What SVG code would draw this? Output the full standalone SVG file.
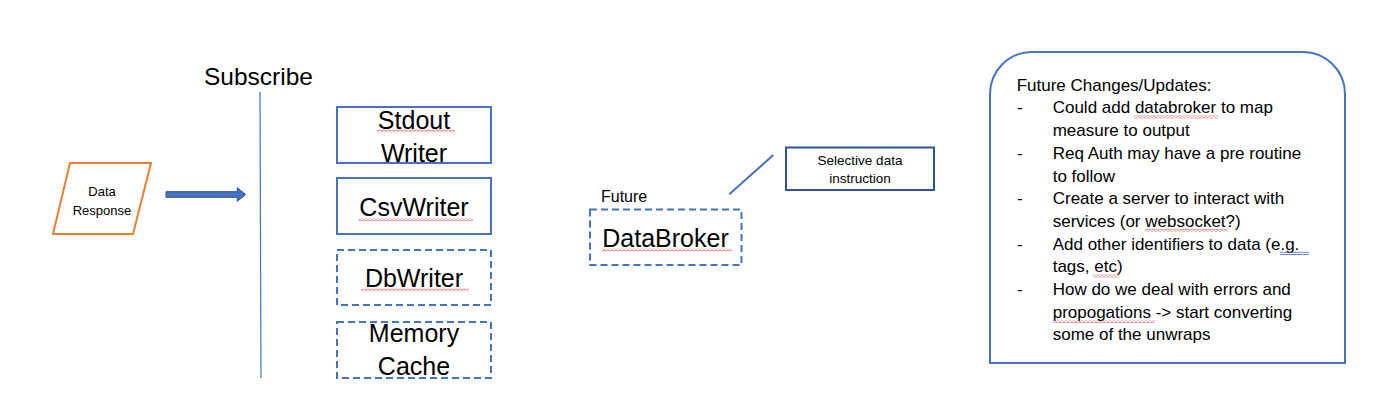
<svg xmlns="http://www.w3.org/2000/svg" width="1385" height="410" viewBox="0 0 1385 410">
<style>
text{font-family:"Liberation Sans",Arial,sans-serif;fill:#000}
.box{fill:#fff;stroke:#4472C4;stroke-width:2}
.dash{stroke-dasharray:7 4}
.big{font-size:25px;text-anchor:middle}
.note{font-size:17px}
.sq{fill:url(#squig)}
</style>
<defs>
<pattern id="squig" x="0" y="0" width="4" height="3" patternUnits="userSpaceOnUse">
<path d="M0,0.6 L2,2.4 L4,0.6" fill="none" stroke="#E03030" stroke-width="0.8"/>
</pattern>
</defs>
<rect width="1385" height="410" fill="#fff"/>

<g id="connectors">
<line x1="260" y1="92" x2="261" y2="378" stroke="#4472C4" stroke-width="1.2"/>
<path d="M166,191.7 L237.3,191.7 L237.3,187.7 L245.7,194.5 L237.3,201.3 L237.3,197.3 L166,197.3 Z" fill="#4472C4" stroke="#2F528F" stroke-width="1"/>
<line x1="729.3" y1="194.3" x2="773.3" y2="155" stroke="#4472C4" stroke-width="2"/>
</g>

<g id="data-response">
<polygon points="70,163 151,163 133,234 53,234" fill="#fff" stroke="#ED7D31" stroke-width="2"/>
<text x="102" y="196" font-size="13" text-anchor="middle">Data</text>
<text x="102" y="214.5" font-size="13" text-anchor="middle">Response</text>
</g>

<g id="subscribe">
<text x="204" y="85" font-size="24.5">Subscribe</text>
</g>

<g id="stdout-writer">
<rect class="box" x="337" y="107" width="154" height="56"/>
<text class="big" x="414" y="128.5">Stdout</text>
<text class="big" x="414" y="161.5">Writer</text>
<rect class="sq" x="377" y="129.5" width="78" height="3"/>
</g>

<g id="csv-writer">
<rect class="box" x="337" y="178" width="154" height="56"/>
<text class="big" x="414" y="215.5">CsvWriter</text>
<rect class="sq" x="358" y="218" width="115" height="3"/>
</g>

<g id="db-writer">
<rect class="box dash" x="337" y="250" width="154" height="55"/>
<text class="big" x="414" y="287">DbWriter</text>
<rect class="sq" x="361" y="288.5" width="108" height="3"/>
</g>

<g id="memory-cache">
<rect class="box dash" x="337" y="322" width="154" height="56"/>
<text class="big" x="414" y="342">Memory</text>
<text class="big" x="414" y="375">Cache</text>
</g>

<g id="databroker">
<text x="601" y="202.3" font-size="16">Future</text>
<rect class="box dash" x="590" y="209.5" width="151.5" height="55.5"/>
<text x="665.5" y="247.3" font-size="25" text-anchor="middle">DataBroker</text>
<rect class="sq" x="602" y="248.5" width="130" height="3"/>
</g>

<g id="selective-data">
<rect x="786" y="147.5" width="148" height="42.5" fill="#fff" stroke="#2F5597" stroke-width="2"/>
<text x="860" y="165" font-size="13.5" text-anchor="middle">Selective data</text>
<text x="860" y="183.3" font-size="13.5" text-anchor="middle">instruction</text>
</g>

<g id="future-changes">
<path d="M990,363 L990,94 A42,42 0 0 1 1032,52 L1303,52 A42,42 0 0 1 1345,94 L1345,363 Z" fill="#fff" stroke="#4472C4" stroke-width="2"/>
<text class="note" x="1016.7" y="90.7">Future Changes/Updates:</text>
<text class="note" x="1017" y="113.4">-</text>
<text class="note" x="1052.7" y="113.4">Could add databroker to map</text>
<text class="note" x="1052.7" y="136.1">measure to output</text>
<text class="note" x="1017" y="158.8">-</text>
<text class="note" x="1052.7" y="158.8">Req Auth may have a pre routine</text>
<text class="note" x="1052.7" y="181.5">to follow</text>
<text class="note" x="1017" y="204.2">-</text>
<text class="note" x="1052.7" y="204.2">Create a server to interact with</text>
<text class="note" x="1052.7" y="226.9">services (or websocket?)</text>
<text class="note" x="1017" y="249.6">-</text>
<text class="note" x="1052.7" y="249.6">Add other identifiers to data (e.g.</text>
<text class="note" x="1052.7" y="272.3">tags, etc)</text>
<text class="note" x="1017" y="295">-</text>
<text class="note" x="1052.7" y="295">How do we deal with errors and</text>
<text class="note" x="1052.7" y="317.7">propogations -&gt; start converting</text>
<text class="note" x="1052.7" y="340.4">some of the unwraps</text>
<rect class="sq" x="1134" y="115.5" width="84" height="3"/>
<rect class="sq" x="1145" y="229" width="83" height="3"/>
<rect class="sq" x="1093" y="274.5" width="26" height="3"/>
<rect class="sq" x="1053" y="320" width="102" height="3"/>
<line x1="1280" y1="252.3" x2="1309" y2="252.3" stroke="#4472C4" stroke-width="0.8"/>
<line x1="1280" y1="254.5" x2="1309" y2="254.5" stroke="#4472C4" stroke-width="0.8"/>
</g>
</svg>
